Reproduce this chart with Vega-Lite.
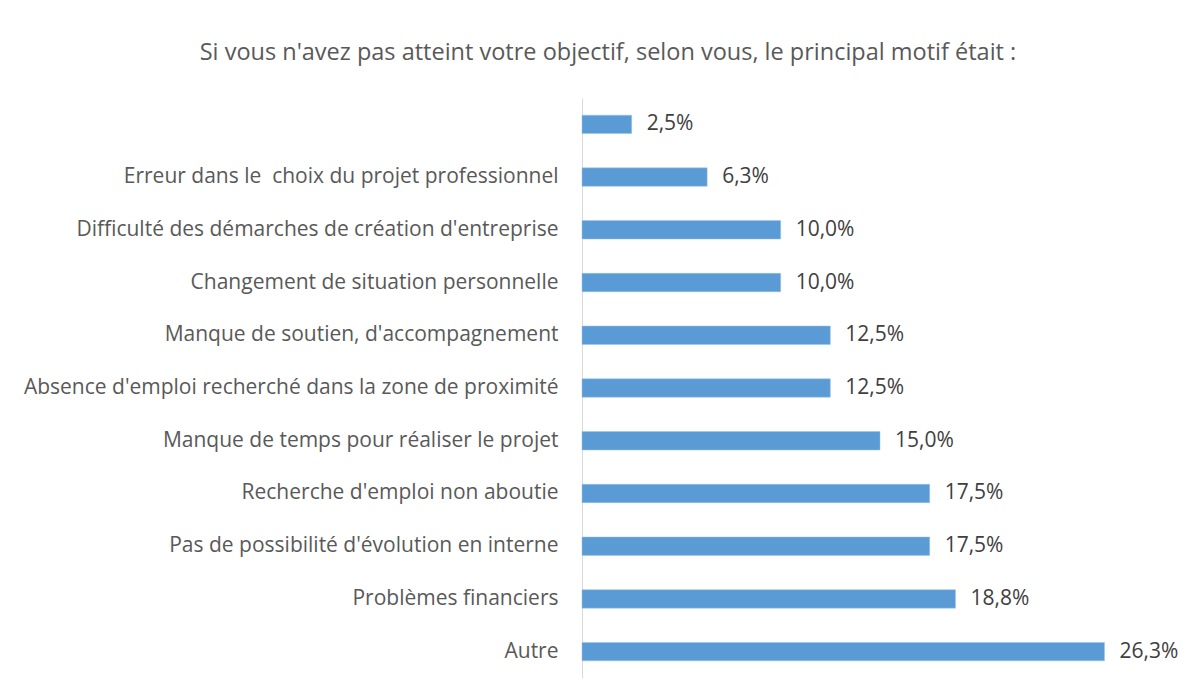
{
  "$schema": "https://vega.github.io/schema/vega-lite/v6.json",
  "autosize": "none",
  "width": 596,
  "height": 580,
  "padding": {"left": 582, "top": 98, "right": 17, "bottom": 22},
  "background": "white",
  "title": {
    "text": "Si vous n'avez pas atteint votre objectif, selon vous, le principal motif était :",
    "font": "Open Sans",
    "fontSize": 23.5,
    "fontWeight": "normal",
    "color": "#595959",
    "anchor": "middle",
    "dx": -272,
    "offset": 34
  },
  "data": {
    "values": [
      {"motif": "", "pct": 2.5, "label": "2,5%", "ord": 1},
      {"motif": "Erreur dans le \u00a0choix du projet professionnel", "pct": 6.3, "label": "6,3%", "ord": 2},
      {"motif": "Difficulté des démarches de création d'entreprise", "pct": 10.0, "label": "10,0%", "ord": 3},
      {"motif": "Changement de situation personnelle", "pct": 10.0, "label": "10,0%", "ord": 4},
      {"motif": "Manque de soutien, d'accompagnement", "pct": 12.5, "label": "12,5%", "ord": 5},
      {"motif": "Absence d'emploi recherché dans la zone de proximité", "pct": 12.5, "label": "12,5%", "ord": 6},
      {"motif": "Manque de temps pour réaliser le projet", "pct": 15.0, "label": "15,0%", "ord": 7},
      {"motif": "Recherche d'emploi non aboutie\u00a0", "pct": 17.5, "label": "17,5%", "ord": 8},
      {"motif": "Pas de possibilité d'évolution en interne", "pct": 17.5, "label": "17,5%", "ord": 9},
      {"motif": "Problèmes financiers", "pct": 18.8, "label": "18,8%", "ord": 10},
      {"motif": "Autre", "pct": 26.3, "label": "26,3%", "ord": 11}
    ]
  },
  "encoding": {
    "y": {
      "field": "motif",
      "type": "nominal",
      "sort": {"field": "ord", "order": "ascending"},
      "scale": {"paddingInner": 0.65, "paddingOuter": 0.325},
      "axis": {
        "title": null,
        "ticks": false,
        "labelFont": "Open Sans",
        "labelFontSize": 21,
        "labelColor": "#595959",
        "labelPadding": 24,
        "labelLimit": 0,
        "domainColor": "#d9d9d9",
        "domainWidth": 1
      }
    },
    "x": {
      "field": "pct",
      "type": "quantitative",
      "scale": {"domain": [0, 30], "nice": false},
      "axis": null
    }
  },
  "layer": [
    {
      "mark": {"type": "bar", "color": "#5b9bd5", "stroke": "#9dc3e6", "strokeWidth": 0.5}
    },
    {
      "mark": {"type": "text", "align": "left", "baseline": "middle", "dx": 15, "font": "Open Sans", "fontSize": 21, "color": "#404040"},
      "encoding": {"text": {"field": "label"}}
    }
  ],
  "config": {"view": {"stroke": null}}
}
